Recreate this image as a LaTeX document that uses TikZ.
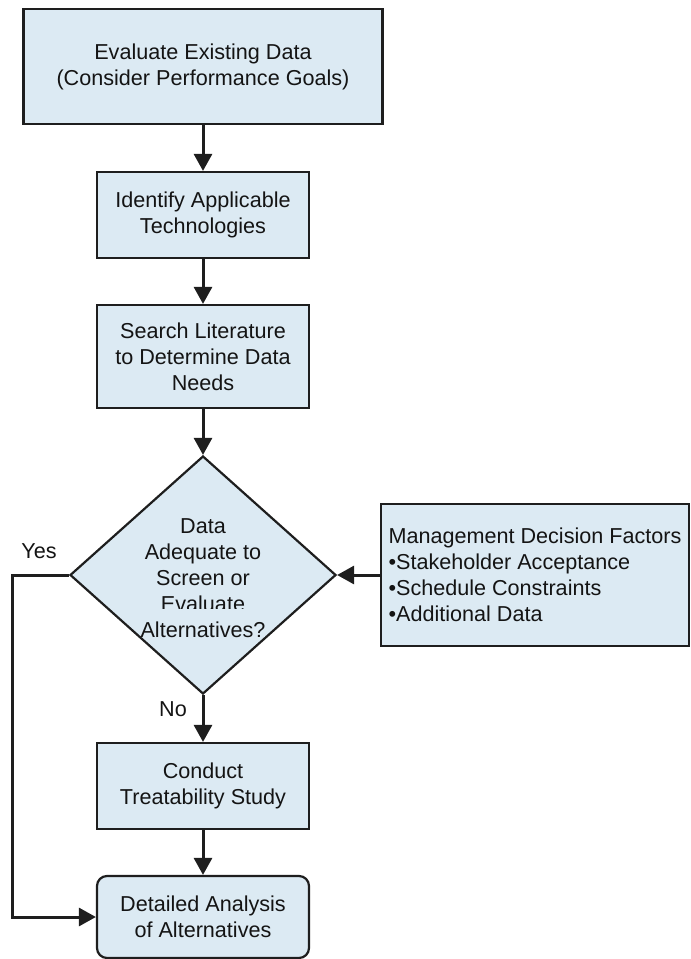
\documentclass[tikz,border=0pt]{standalone}
\usepackage{fontspec}
\setmainfont{Liberation Sans}
\usetikzlibrary{shapes.geometric,arrows.meta}
\definecolor{boxfill}{HTML}{DCEAF3}
\definecolor{edgecol}{HTML}{1E1E1E}
\definecolor{ink}{HTML}{141414}
\begin{document}
\begin{tikzpicture}[x=1pt,y=-1pt,
  every node/.style={font=\fontsize{21.6}{26}\selectfont, text=ink},
  proc/.style={draw=edgecol, line width=2.2pt, fill=boxfill, rectangle, align=center, inner sep=0pt},
  decide/.style={draw=edgecol, line width=2.2pt, fill=boxfill, diamond, inner sep=0pt},
  conn/.style={draw=edgecol, line width=3pt, -{Triangle[length=17pt,width=18pt]}},
  dline/.style={anchor=base, inner sep=0pt}]
\useasboundingbox (0,0) rectangle (691,959);

\node[proc, minimum width=359pt, minimum height=115pt] (b1) at (203,66.5)
  {Evaluate Existing Data\\(Consider Performance Goals)};
\node[proc, minimum width=212pt, minimum height=86pt] (b2) at (203,215)
  {Identify Applicable\\Technologies};
\node[proc, minimum width=212pt, minimum height=103pt] (b3) at (203,356.5)
  {Search Literature\\to Determine Data\\Needs};
\node[decide, minimum width=266pt, minimum height=238pt] (d) at (203,575) {};
\node[dline] (d1) at (203,533) {Data};
\node[dline] (d2) at (203,559) {Adequate to};
\node[dline] (d3) at (203,585) {Screen or};
\node[dline] (d4) at (203,611) {Evaluate};
\node[dline, fill=boxfill, text height=28pt, text depth=0pt] (d5) at (203,637) {Alternatives?};
\node[proc, minimum width=308pt, minimum height=142pt, align=left] (m) at (535,575)
  {Management Decision Factors\\•Stakeholder Acceptance\\•Schedule Constraints\\•Additional Data};
\node[proc, minimum width=212pt, minimum height=86pt] (b4) at (203,786)
  {Conduct\\Treatability Study};
\node[proc, rounded corners=10pt, minimum width=212pt, minimum height=82pt] (b5) at (203,917)
  {Detailed Analysis\\of Alternatives};

\node (yes) at (39,551) {Yes};
\node (no) at (173,709) {No};
\coordinate (yc) at (12,575);

\draw[conn] (b1) -- (b2);
\draw[conn] (b2) -- (b3);
\draw[conn] (b3) -- (d);
\draw[conn] (d) -- (b4);
\draw[conn] (b4) -- (b5);
\draw[conn] (m) -- (d);
\draw[conn] (d.west) -- (yc) |- (b5.west);
\end{tikzpicture}
\end{document}
